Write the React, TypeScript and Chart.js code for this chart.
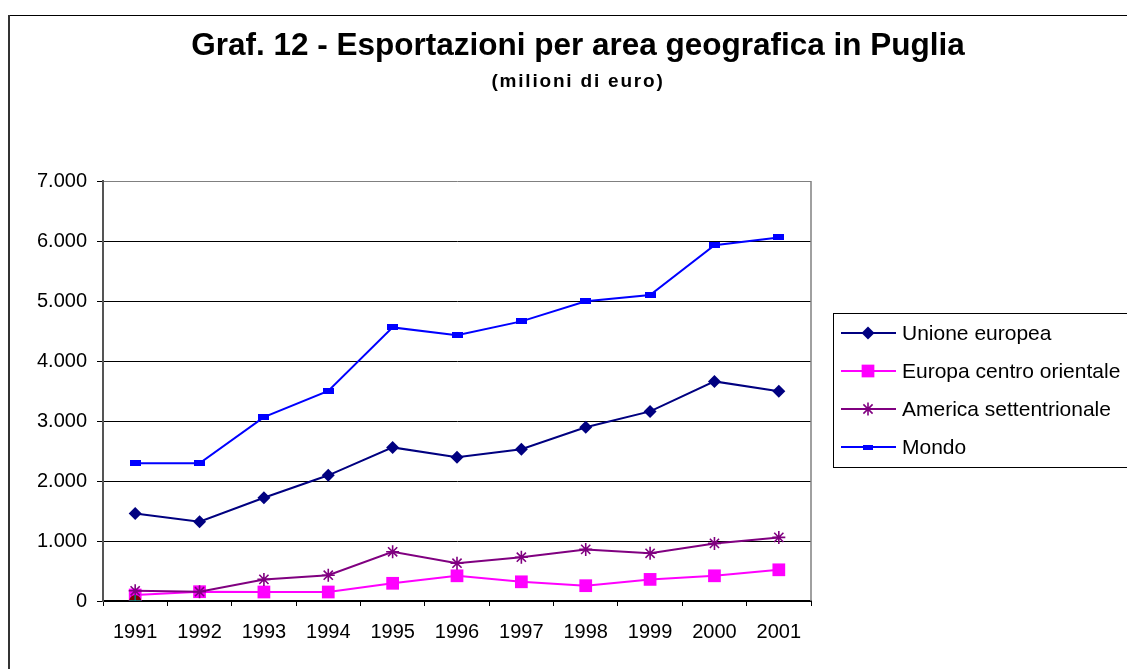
import React, { useEffect, useRef } from "react";
import { Chart, registerables } from "chart.js";
import { drawPoint } from "chart.js/helpers";

Chart.register(...registerables);

const years = ["1991", "1992", "1993", "1994", "1995", "1996", "1997", "1998", "1999", "2000", "2001"];
const unioneEuropea = [1460, 1320, 1720, 2095, 2560, 2395, 2530, 2895, 3160, 3660, 3495];
const europaCentroOrientale = [100, 155, 150, 150, 295, 420, 320, 255, 360, 420, 520];
const americaSettentrionale = [170, 155, 360, 430, 820, 630, 730, 860, 795, 960, 1060];
const mondo = [2295, 2295, 3065, 3500, 4560, 4430, 4660, 4995, 5100, 5930, 6060];
const extraA = [0, null, null, null, null, null, null, null, null, null, null];
const extraB = [0, null, null, null, null, null, null, null, null, null, null];
const yTickLabels = ["0", "1.000", "2.000", "3.000", "4.000", "5.000", "6.000", "7.000"];
const titleText = "Graf. 12 - Esportazioni per area geografica in Puglia";
const subtitleText = "(milioni di euro)";
const legendLabels = ["Unione europea", "Europa centro orientale", "America settentrionale", "Mondo"];

const FONT = '"Liberation Sans", Arial, sans-serif';

function makeBarMarker(w: number, h: number, color: string) {
  const c = document.createElement("canvas");
  c.width = w;
  c.height = h;
  const x = c.getContext("2d")!;
  x.fillStyle = color;
  x.fillRect(0, 0, w, h);
  return c;
}

export default function App() {
  const ref = useRef<HTMLCanvasElement | null>(null);

  useEffect(() => {
    if (!ref.current) return;
    Chart.defaults.font.family = FONT;
    const mondoMarker = makeBarMarker(11, 6, "#0000FF");
    const legendMondoMarker = makeBarMarker(10, 5, "#0000FF");

    const main = [
      { label: legendLabels[0], data: unioneEuropea, borderColor: "#000080", backgroundColor: "#000080", pointStyle: "rectRot" as any, pointRadius: 6.5, pointBorderWidth: 0, order: 5 },
      { label: legendLabels[1], data: europaCentroOrientale, borderColor: "#FF00FF", backgroundColor: "#FF00FF", pointStyle: "rect" as any, pointRadius: 9, pointBorderWidth: 0, order: 4 },
      { label: legendLabels[2], data: americaSettentrionale, borderColor: "#800080", backgroundColor: "#800080", pointStyle: "star" as any, pointRadius: 6.5, pointBorderWidth: 1.6, order: 3 },
      { label: legendLabels[3], data: mondo, borderColor: "#0000FF", backgroundColor: "#0000FF", pointStyle: mondoMarker as any, pointRadius: 6, pointBorderWidth: 0, order: 2 },
    ];

    const framePlugin = {
      id: "frameAndTexts",
      beforeDraw(chart: any) {
        const ctx = chart.ctx;
        ctx.save();
        ctx.fillStyle = "#fff";
        ctx.fillRect(0, 0, chart.width, chart.height);
        ctx.strokeStyle = "#000";
        ctx.lineWidth = 1;
        ctx.beginPath();
        ctx.moveTo(0, 0.5);
        ctx.lineTo(chart.width, 0.5);
        ctx.stroke();
        ctx.strokeStyle = "#333";
        ctx.lineWidth = 2;
        ctx.beginPath();
        ctx.moveTo(1, 0);
        ctx.lineTo(1, chart.height);
        ctx.stroke();
        ctx.restore();
      },
      beforeDatasetsDraw(chart: any) {
        const ctx = chart.ctx;
        const a = chart.chartArea;
        ctx.save();
        ctx.strokeStyle = "#808080";
        ctx.lineWidth = 1.5;
        ctx.beginPath();
        ctx.moveTo(a.right, a.top);
        ctx.lineTo(a.right, a.bottom);
        ctx.stroke();
        ctx.restore();
      },
      afterDraw(chart: any) {
        const ctx = chart.ctx;
        const cx = 570;
        ctx.save();
        ctx.fillStyle = "#000";
        ctx.textAlign = "center";
        ctx.textBaseline = "middle";
        ctx.translate(cx, 31);
        ctx.font = "bold 31.5px " + FONT;
        ctx.fillText(titleText, 0, 0);
        ctx.restore();

        ctx.save();
        ctx.fillStyle = "#000";
        ctx.textAlign = "center";
        ctx.textBaseline = "middle";
        ctx.translate(cx, 67);
        ctx.font = "bold 19px " + FONT;
        (ctx as any).letterSpacing = "1.8px";
        ctx.fillText(subtitleText, 0, 0);
        ctx.restore();

        // legend
        const bx = 825, by = 298, bw = 330, bh = 154;
        ctx.save();
        ctx.strokeStyle = "#000";
        ctx.lineWidth = 1;
        ctx.strokeRect(bx + 0.5, by + 0.5, bw, bh);
        const rows = [318, 356, 394, 432];
        main.forEach((ds, i) => {
          const y = rows[i];
          ctx.strokeStyle = ds.borderColor;
          ctx.lineWidth = 2;
          ctx.beginPath();
          ctx.moveTo(833, y);
          ctx.lineTo(888, y);
          ctx.stroke();
          ctx.fillStyle = ds.backgroundColor;
          ctx.strokeStyle = ds.borderColor;
          ctx.lineWidth = ds.pointBorderWidth;
          const ps = i === 3 ? legendMondoMarker : ds.pointStyle;
          drawPoint(ctx, { pointStyle: ps, rotation: 0, radius: ds.pointRadius, borderWidth: ds.pointBorderWidth } as any, 860, y);
          ctx.fillStyle = "#000";
          ctx.font = "21px " + FONT;
          ctx.textAlign = "left";
          ctx.textBaseline = "middle";
          ctx.fillText(legendLabels[i], 894, y + 1);
        });
        ctx.restore();
      },
    };

    const chart = new Chart(ref.current, {
      type: "line",
      data: {
        labels: years,
        datasets: [
          ...main.map((d) => ({ ...d, borderWidth: 2, tension: 0, fill: false, pointHoverRadius: d.pointRadius })),
          { label: "extraA", data: extraA, borderColor: "#800000", backgroundColor: "#800000", pointStyle: "circle", pointRadius: 6, borderWidth: 0, showLine: false, order: 1 },
          { label: "extraB", data: extraB, borderColor: "#008080", backgroundColor: "#008080", pointStyle: "cross", pointRadius: 6, pointBorderWidth: 1.5, borderWidth: 1.5, showLine: false, order: 0 },
        ] as any,
      },
      options: {
        animation: false,
        responsive: false,
        layout: { padding: { left: 0, top: 166, right: 337, bottom: 0 } },
        plugins: { legend: { display: false }, title: { display: false }, tooltip: { enabled: false } },
        scales: {
          x: {
            type: "category",
            offset: true,
            grid: { offset: true, drawOnChartArea: false, drawTicks: true, tickLength: 5, tickColor: "#000", tickWidth: 1 },
            border: { color: "#000", width: 2 },
            ticks: { color: "#000", font: { size: 20, family: FONT }, padding: 14, maxRotation: 0, autoSkip: false },
            afterFit: (s: any) => { s.height = 94; },
          },
          y: {
            min: 0,
            max: 7000,
            grid: {
              color: (c: any) => (c.tick && c.tick.value === 7000 ? "#808080" : "#000"),
              lineWidth: 1,
              drawTicks: true,
              tickLength: 6,
              tickColor: "#000",
            },
            border: { color: "#555", width: 2 },
            ticks: {
              stepSize: 1000,
              color: "#000",
              font: { size: 20, family: FONT },
              padding: 10,
              callback: (_v: any, i: number) => yTickLabels[i],
            },
            afterFit: (s: any) => { s.width = 95; },
          },
        },
      },
      plugins: [framePlugin],
    });
    return () => chart.destroy();
  }, []);

  return (
    <div style={{ position: "fixed", left: 0, top: 0, width: 1127, height: 669, overflow: "hidden", background: "#fff" }}>
      <div style={{ position: "absolute", left: 8, top: 15, width: 1140, height: 680 }}>
        <canvas ref={ref} width={1140} height={680} style={{ display: "block" }} />
      </div>
    </div>
  );
}
